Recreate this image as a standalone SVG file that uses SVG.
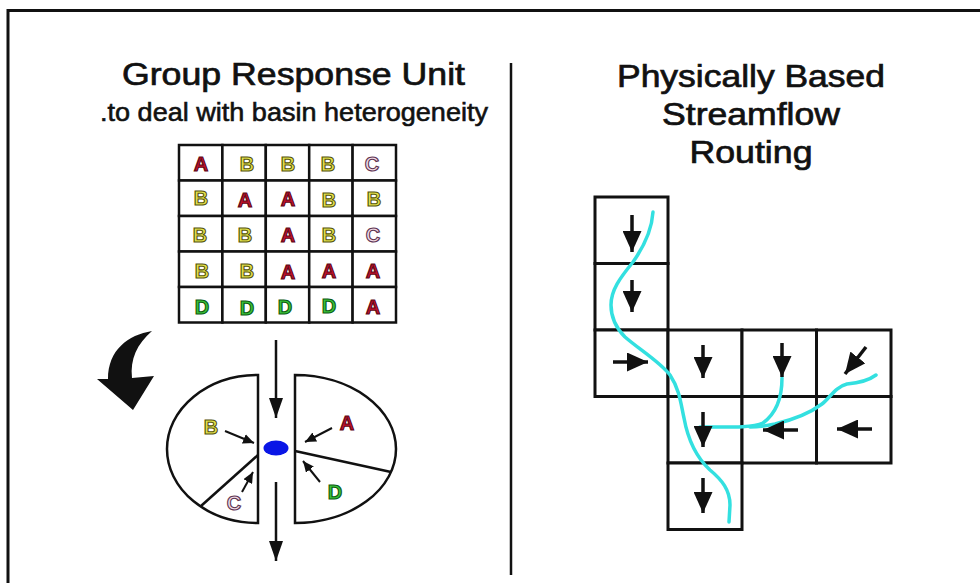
<svg xmlns="http://www.w3.org/2000/svg" width="980" height="583" viewBox="0 0 980 583">
  <style>
    .title { font-family: "Liberation Sans", Arial, sans-serif; font-size: 31px; fill: #111; stroke: #111; stroke-width: 0.7; text-anchor: middle; }
    .sub { font-family: "Liberation Sans", Arial, sans-serif; font-size: 26px; fill: #111; stroke: #111; stroke-width: 0.6; text-anchor: middle; }
    .ltr { font-family: "Liberation Sans", Arial, sans-serif; font-size: 20px; font-weight: bold; text-anchor: middle; stroke-width: 1.1; }
    .la { fill: #c4122c; stroke: #5c0614; }
    .lb { fill: #e4e34c; stroke: #55540c; }
    .lc { fill: #f3dbe6; stroke: #5e3452; }
    .ld { fill: #39c43a; stroke: #0c5a10; }
    .cell { fill: #fff; stroke: #111; stroke-width: 2.5; }
    .rcell { fill: #fff; stroke: #111; stroke-width: 3; }
    .pie { fill: #fff; stroke: #111; stroke-width: 2.5; }
    .flow { stroke: #111; stroke-width: 3.5; fill: none; marker-end: url(#bigHead); }
    .main { stroke: #111; stroke-width: 2.5; fill: none; marker-end: url(#midHead); }
    .small { stroke: #111; stroke-width: 2; fill: none; marker-end: url(#smallHead); }
    .river { stroke: #33e0e0; stroke-width: 3.5; fill: none; stroke-linecap: round; stroke-linejoin: round; }
  </style>
  <defs>
    <marker id="bigHead" markerUnits="userSpaceOnUse" markerWidth="21" markerHeight="19" refX="21" refY="9.5" orient="auto">
      <path d="M0,0 L21,9.5 L0,19 Z" fill="#111"/>
    </marker>
    <marker id="midHead" markerUnits="userSpaceOnUse" markerWidth="20" markerHeight="14" refX="20" refY="7" orient="auto">
      <path d="M0,0 L20,7 L0,14 Z" fill="#111"/>
    </marker>
    <marker id="smallHead" markerUnits="userSpaceOnUse" markerWidth="11" markerHeight="10" refX="11" refY="5" orient="auto">
      <path d="M0,0 L11,5 L0,10 Z" fill="#111"/>
    </marker>
  </defs>

  <rect width="980" height="583" fill="#fff"/>
  <!-- outer frame, open at right and bottom -->
  <rect x="8" y="10.5" width="1000" height="600" fill="none" stroke="#111" stroke-width="3"/>
  <!-- centre divider -->
  <line x1="511" y1="63" x2="511" y2="575" stroke="#111" stroke-width="2.5"/>

  <!-- headings -->
  <g id="title-left">
    <text class="title" x="293.5" y="85" textLength="343" lengthAdjust="spacingAndGlyphs">Group Response Unit</text>
    <text class="sub" x="294" y="121" textLength="388" lengthAdjust="spacingAndGlyphs">.to deal with basin heterogeneity</text>
  </g>
  <g id="title-right">
    <text class="title" x="751" y="87" textLength="268" lengthAdjust="spacingAndGlyphs">Physically Based</text>
    <text class="title" x="751" y="125" textLength="178" lengthAdjust="spacingAndGlyphs">Streamflow</text>
    <text class="title" x="751" y="163" textLength="123" lengthAdjust="spacingAndGlyphs">Routing</text>
  </g>

  <!-- land-class grid 5x5 -->
  <g id="class-grid">
    <g>
      <rect class="cell" x="179" y="145" width="43.4" height="35.5"/>
      <rect class="cell" x="222.4" y="145" width="43.4" height="35.5"/>
      <rect class="cell" x="265.8" y="145" width="43.4" height="35.5"/>
      <rect class="cell" x="309.2" y="145" width="43.4" height="35.5"/>
      <rect class="cell" x="352.6" y="145" width="43.4" height="35.5"/>
      <rect class="cell" x="179" y="180.5" width="43.4" height="35.5"/>
      <rect class="cell" x="222.4" y="180.5" width="43.4" height="35.5"/>
      <rect class="cell" x="265.8" y="180.5" width="43.4" height="35.5"/>
      <rect class="cell" x="309.2" y="180.5" width="43.4" height="35.5"/>
      <rect class="cell" x="352.6" y="180.5" width="43.4" height="35.5"/>
      <rect class="cell" x="179" y="216" width="43.4" height="35.5"/>
      <rect class="cell" x="222.4" y="216" width="43.4" height="35.5"/>
      <rect class="cell" x="265.8" y="216" width="43.4" height="35.5"/>
      <rect class="cell" x="309.2" y="216" width="43.4" height="35.5"/>
      <rect class="cell" x="352.6" y="216" width="43.4" height="35.5"/>
      <rect class="cell" x="179" y="251.5" width="43.4" height="35.5"/>
      <rect class="cell" x="222.4" y="251.5" width="43.4" height="35.5"/>
      <rect class="cell" x="265.8" y="251.5" width="43.4" height="35.5"/>
      <rect class="cell" x="309.2" y="251.5" width="43.4" height="35.5"/>
      <rect class="cell" x="352.6" y="251.5" width="43.4" height="35.5"/>
      <rect class="cell" x="179" y="287" width="43.4" height="35.5"/>
      <rect class="cell" x="222.4" y="287" width="43.4" height="35.5"/>
      <rect class="cell" x="265.8" y="287" width="43.4" height="35.5"/>
      <rect class="cell" x="309.2" y="287" width="43.4" height="35.5"/>
      <rect class="cell" x="352.6" y="287" width="43.4" height="35.5"/>
    </g>
    <g>
      <text class="ltr la" x="201" y="171">A</text>
      <text class="ltr lb" x="247" y="171">B</text>
      <text class="ltr lb" x="288" y="171">B</text>
      <text class="ltr lb" x="328" y="171">B</text>
      <text class="ltr lc" x="372" y="171">C</text>

      <text class="ltr lb" x="201" y="205">B</text>
      <text class="ltr la" x="245" y="206.5">A</text>
      <text class="ltr la" x="288" y="205.5">A</text>
      <text class="ltr lb" x="329" y="206.5">B</text>
      <text class="ltr lb" x="374" y="205.5">B</text>

      <text class="ltr lb" x="200" y="242">B</text>
      <text class="ltr lb" x="245" y="242">B</text>
      <text class="ltr la" x="288" y="242">A</text>
      <text class="ltr lb" x="329" y="242">B</text>
      <text class="ltr lc" x="373" y="242">C</text>

      <text class="ltr lb" x="202" y="278">B</text>
      <text class="ltr lb" x="247" y="278">B</text>
      <text class="ltr la" x="288" y="278.5">A</text>
      <text class="ltr la" x="329" y="278">A</text>
      <text class="ltr la" x="373" y="278">A</text>

      <text class="ltr ld" x="202" y="313.5">D</text>
      <text class="ltr ld" x="247" y="314.5">D</text>
      <text class="ltr ld" x="285" y="313.5">D</text>
      <text class="ltr ld" x="329" y="312.5">D</text>
      <text class="ltr la" x="373" y="313.5">A</text>
    </g>
  </g>

  <!-- big curved arrow -->
  <g id="curved-arrow">
    <path d="M152,331 C128,335 108,350 108,379 L97,379 L133,410 L154,376 L132,378 C130,359 137,344 152,331 Z" fill="#111"/>
  </g>

  <!-- grouped response units -->
  <g id="gru-left">
    <path class="pie" d="M258,375 A91,74 0 0 0 258,523 Z"/>
    <line x1="258" y1="455" x2="201" y2="506" stroke="#111" stroke-width="2.5"/>
    <text class="ltr lb" x="211" y="434">B</text>
    <text class="ltr lc" x="234" y="510">C</text>
  </g>
  <g id="gru-right">
    <path class="pie" d="M295,375 A101,74 0 0 1 295,523 Z"/>
    <line x1="295" y1="451" x2="391" y2="472" stroke="#111" stroke-width="2.5"/>
    <text class="ltr la" x="347" y="430">A</text>
    <text class="ltr ld" x="335" y="499">D</text>
  </g>
  <g id="outlet">
    <ellipse cx="276" cy="448" rx="12.5" ry="7.5" fill="#0a16e6"/>
  </g>

  <!-- routing cells -->
  <g id="route-cells">
    <rect class="rcell" x="595" y="197" width="73" height="66.5"/>
    <rect class="rcell" x="595" y="263.5" width="73" height="66.5"/>
    <rect class="rcell" x="595" y="330" width="73" height="66.5"/>
    <rect class="rcell" x="668" y="330" width="74" height="66.5"/>
    <rect class="rcell" x="742" y="330" width="74.5" height="66.5"/>
    <rect class="rcell" x="816.5" y="330" width="74.5" height="66.5"/>
    <rect class="rcell" x="668" y="396.5" width="74" height="66.5"/>
    <rect class="rcell" x="742" y="396.5" width="74.5" height="66.5"/>
    <rect class="rcell" x="816.5" y="396.5" width="74.5" height="66.5"/>
    <rect class="rcell" x="668" y="463" width="74" height="66.5"/>
  </g>

  <!-- stream network -->
  <g id="river">
    <path class="river" d="M653,212 C652,228 645,245 633,262 C620,278 611,290 611,305 C611,318 616,328 625,337 C640,350 660,362 670,375 C680,390 681,405 684,418 C688,440 697,458 710,470 C722,480 730,490 730,505 L729,522"/>
    <path class="river" d="M782,378 C782,396 778,412 763,423 C752,428 728,427 700,427"/>
    <path class="river" d="M876,375 C868,381 858,383 847,384 C835,387 830,398 822,404 C810,413 792,420 775,424 C765,426 760,427 750,427"/>
  </g>

  <!-- connectors -->
  <g id="connectors">
    <line class="main" x1="276" y1="340" x2="276" y2="418"/>
    <line class="main" x1="276" y1="482" x2="276" y2="561"/>
    <line class="small" x1="225" y1="431" x2="254" y2="443"/>
    <line class="small" x1="242" y1="492" x2="253" y2="472"/>
    <line class="small" x1="332" y1="428" x2="305" y2="442"/>
    <line class="small" x1="320" y1="482" x2="303" y2="461"/>

    <line class="flow" x1="632" y1="215" x2="632" y2="252"/>
    <line class="flow" x1="632" y1="280" x2="632" y2="312"/>
    <line class="flow" x1="613" y1="362" x2="648" y2="362"/>
    <line class="flow" x1="703" y1="345" x2="703" y2="378"/>
    <line class="flow" x1="782" y1="343" x2="782" y2="377"/>
    <line class="flow" x1="866" y1="347" x2="845" y2="374"/>
    <line class="flow" x1="703" y1="412" x2="703" y2="447"/>
    <line class="flow" x1="798" y1="430" x2="763" y2="430"/>
    <line class="flow" x1="872" y1="429" x2="837" y2="429"/>
    <line class="flow" x1="703" y1="478" x2="703" y2="513"/>
  </g>
</svg>
